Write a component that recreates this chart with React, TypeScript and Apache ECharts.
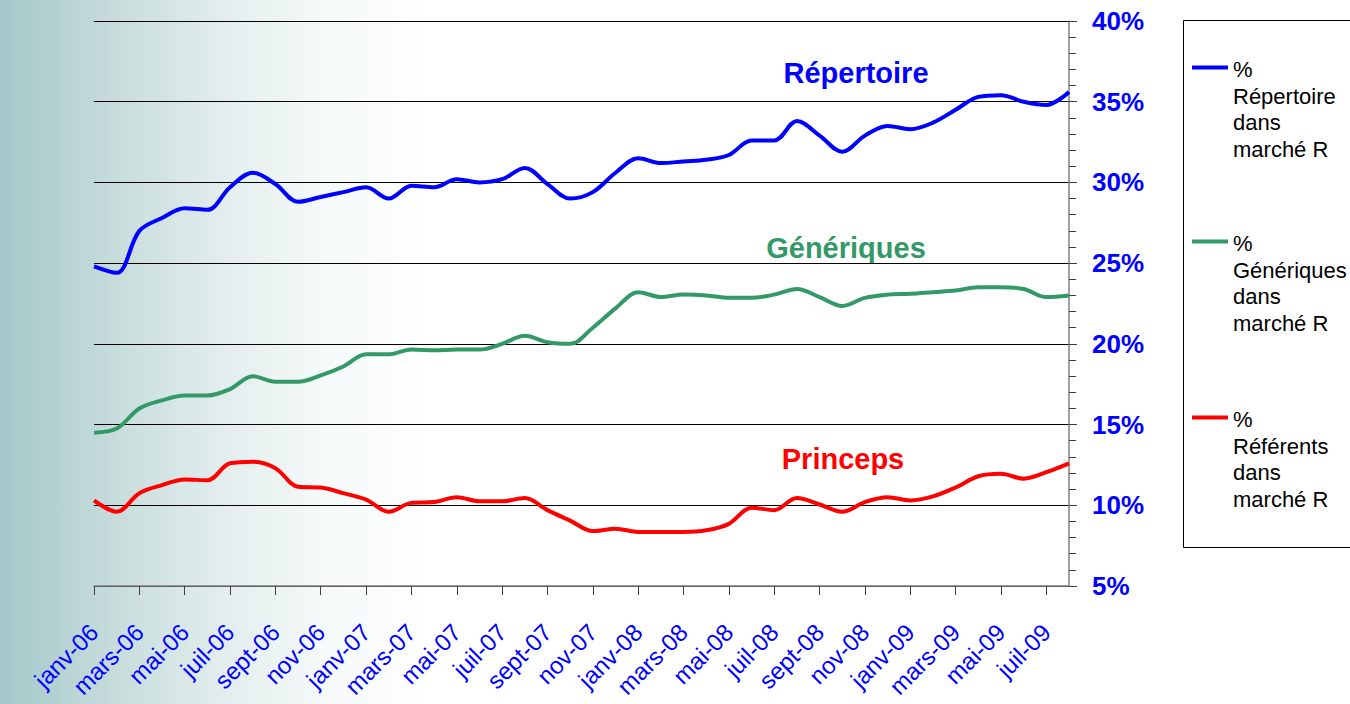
import React, { useEffect, useRef } from "react";
import * as echarts from "echarts";

const months = [
  "janv-06", "févr-06", "mars-06", "avr-06", "mai-06", "juin-06", "juil-06", "août-06", "sept-06", "oct-06", "nov-06", "déc-06",
  "janv-07", "févr-07", "mars-07", "avr-07", "mai-07", "juin-07", "juil-07", "août-07", "sept-07", "oct-07", "nov-07", "déc-07",
  "janv-08", "févr-08", "mars-08", "avr-08", "mai-08", "juin-08", "juil-08", "août-08", "sept-08", "oct-08", "nov-08", "déc-08",
  "janv-09", "févr-09", "mars-09", "avr-09", "mai-09", "juin-09", "juil-09", "août-09",
];

const repertoire = [
  24.8, 24.4, 27.0, 27.8, 28.4, 28.3, 29.7, 30.6, 29.9, 28.8, 29.1, 29.4,
  29.7, 29.0, 29.8, 29.7, 30.2, 30.0, 30.2, 30.9, 29.9, 29.0, 29.4, 30.6,
  31.5, 31.2, 31.3, 31.4, 31.7, 32.6, 32.6, 33.8, 32.9, 31.9, 32.9, 33.5,
  33.3, 33.7, 34.5, 35.3, 35.4, 35.0, 34.8, 35.6,
];

const generiques = [
  14.5, 14.75, 16.0, 16.5, 16.8, 16.8, 17.2, 18.0, 17.65, 17.65, 18.05, 18.6,
  19.35, 19.35, 19.65, 19.6, 19.65, 19.65, 20.0, 20.5, 20.1, 20.0, 21.0, 22.2,
  23.2, 22.9, 23.05, 23.0, 22.85, 22.85, 23.05, 23.4, 22.9, 22.35, 22.85, 23.05,
  23.1, 23.2, 23.3, 23.5, 23.5, 23.4, 22.9, 23.0,
];

const princeps = [
  10.3, 9.6, 10.75, 11.25, 11.6, 11.55, 12.6, 12.7, 12.3, 11.15, 11.1, 10.75,
  10.35, 9.6, 10.15, 10.2, 10.5, 10.25, 10.25, 10.45, 9.7, 9.05, 8.4, 8.55,
  8.35, 8.35, 8.35, 8.45, 8.85, 9.85, 9.7, 10.45, 10.05, 9.6, 10.2, 10.5,
  10.3, 10.55, 11.1, 11.8, 11.95, 11.65, 12.05, 12.6,
];

const seriesNames = [
  "% Répertoire dans marché R",
  "% Génériques dans marché R",
  "% Référents dans marché R",
];
const legendTexts = [
  "%\nRépertoire\ndans\nmarché R",
  "%\nGénériques\ndans\nmarché R",
  "%\nRéférents\ndans\nmarché R",
];
const annotations = ["Répertoire", "Génériques", "Princeps"];
const colors = ["#0000FF", "#339966", "#FF0000"];

const FF = '"Liberation Sans", Arial, sans-serif';

export default function App() {
  const ref = useRef<HTMLDivElement>(null);
  useEffect(() => {
    if (!ref.current) return;
    const chart = echarts.init(ref.current, null, { renderer: "svg" });
    const datasets = [repertoire, generiques, princeps];
    const legendY = [67.5, 241.5, 417.5];
    const annot = [
      { x: 856, y: 73 },
      { x: 846, y: 248 },
      { x: 843, y: 459 },
    ];
    const graphic: any[] = [
      {
        type: "rect",
        shape: { x: 1183.5, y: 20.5, width: 240, height: 527 },
        style: { fill: "transparent", stroke: "#000", lineWidth: 1 },
      },
    ];
    legendTexts.forEach((t, i) => {
      graphic.push({
        type: "line",
        shape: { x1: 1192, y1: legendY[i], x2: 1228, y2: legendY[i] },
        style: { stroke: colors[i], lineWidth: 4 },
      });
      graphic.push({
        type: "text",
        x: 1233,
        y: legendY[i] - 11.5,
        style: {
          text: t,
          font: `22px ${FF}`,
          fill: "#000",
          lineHeight: 26.7,
          verticalAlign: "top",
          align: "left",
        },
      });
      graphic.push({
        type: "text",
        x: annot[i].x,
        y: annot[i].y,
        style: {
          text: annotations[i],
          font: `bold 29px ${FF}`,
          fill: colors[i],
          align: "center",
          verticalAlign: "middle",
        },
      });
    });

    chart.setOption({
      animation: false,
      backgroundColor: "transparent",
      grid: {
        left: 94,
        top: 21,
        width: 975,
        height: 565,
        containLabel: false,
        outerBoundsMode: "none",
      },
      xAxis: {
        type: "category",
        data: months,
        boundaryGap: false,
        axisLine: { show: true, lineStyle: { color: "#808080", width: 1.5 } },
        axisTick: { show: true, interval: 1, length: 9, lineStyle: { color: "#404040" } },
        axisLabel: {
          interval: 1,
          rotate: 45,
          margin: 42,
          color: "#0000FF",
          fontSize: 24,
          fontFamily: FF,
        },
        splitLine: { show: false },
      },
      yAxis: {
        type: "value",
        position: "right",
        min: 5,
        max: 40,
        interval: 5,
        axisLine: { show: true, lineStyle: { color: "#808080", width: 1.5 } },
        axisTick: { show: true, length: 8, lineStyle: { color: "#404040" } },
        minorTick: { show: true, splitNumber: 5, length: 7, lineStyle: { color: "#404040" } },
        axisLabel: {
          margin: 23,
          align: "left",
          color: "#0000FF",
          fontSize: 26,
          fontWeight: "bold",
          fontFamily: FF,
          formatter: "{value}%",
        },
        splitLine: { show: true, lineStyle: { color: "#000", width: 1 } },
      },
      series: datasets.map((d, i) => ({
        name: seriesNames[i],
        type: "line",
        data: d,
        smooth: 0.35,
        symbol: "none",
        lineStyle: { color: colors[i], width: 4 },
        itemStyle: { color: colors[i] },
      })),
      graphic,
    });
    return () => chart.dispose();
  }, []);
  return (
    <div
      ref={ref}
      style={{
        position: "absolute",
        left: 0,
        top: 0,
        width: 1350,
        height: 704,
        background:
          "linear-gradient(to right, #a3c8c9 0px, #c9dddd 120px, #e4eeee 230px, #f6fafa 330px, #ffffff 440px)",
      }}
    />
  );
}
